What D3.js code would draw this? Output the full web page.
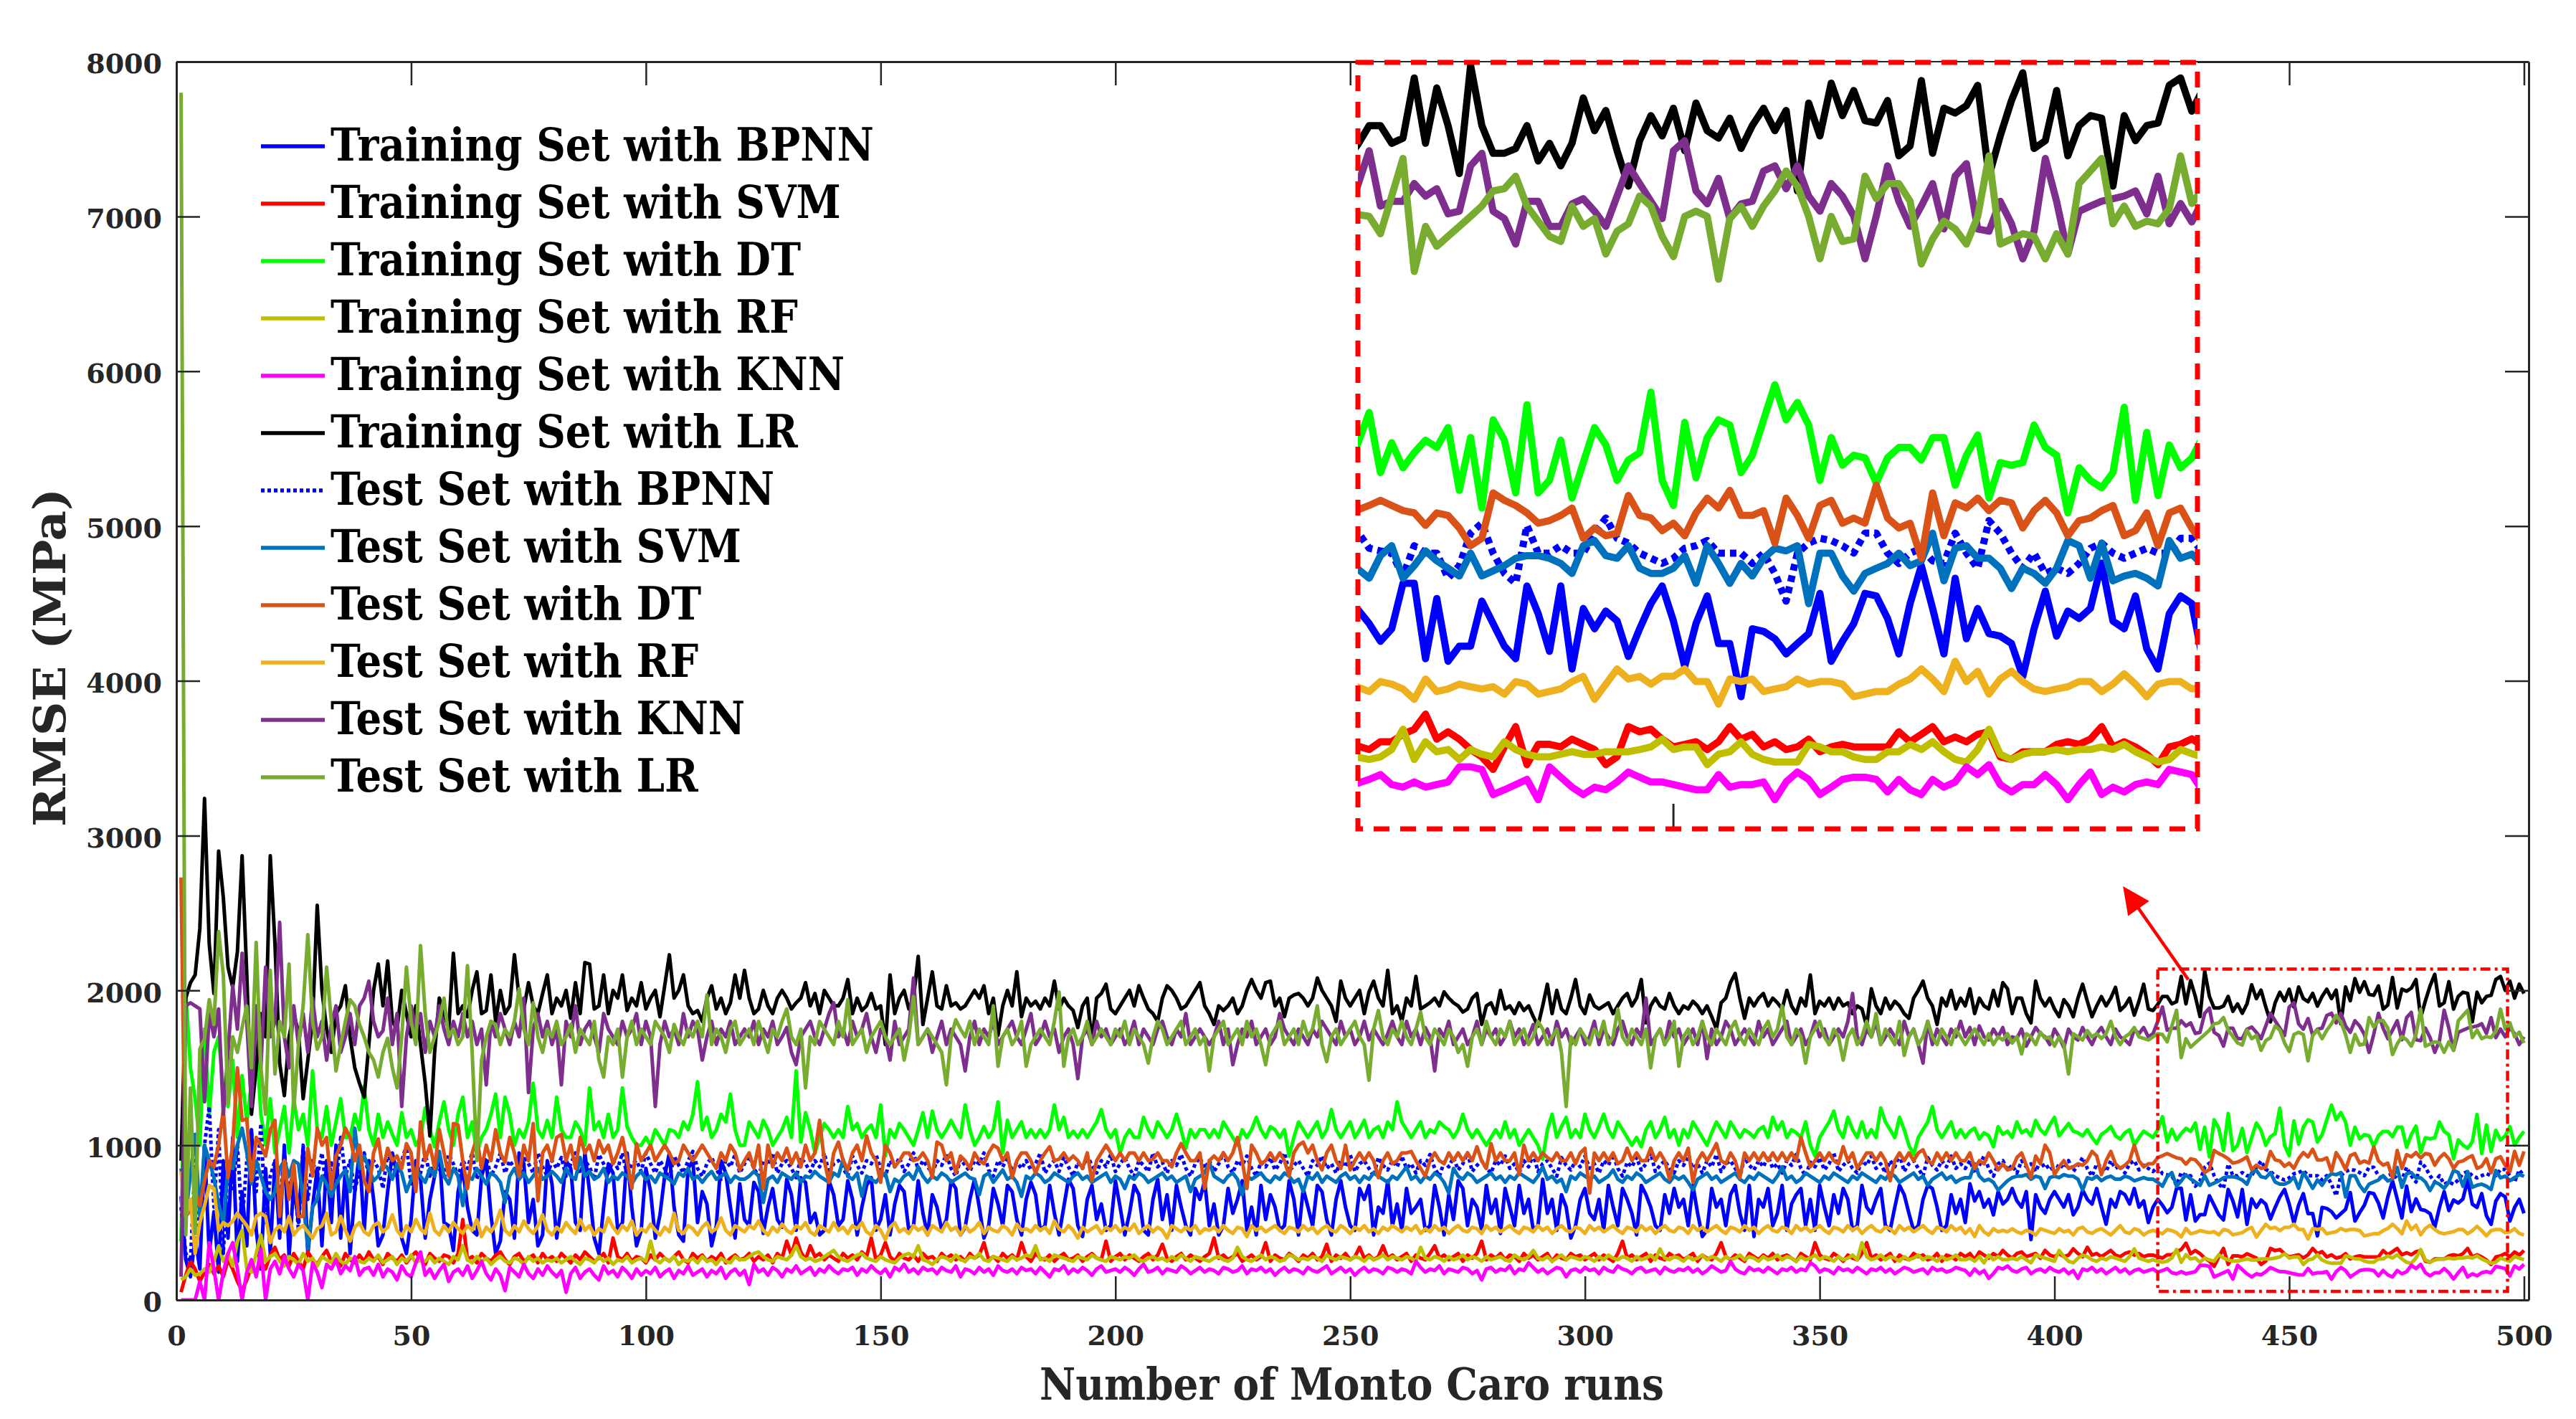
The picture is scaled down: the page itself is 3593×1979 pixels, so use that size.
<!DOCTYPE html>
<html><head><meta charset="utf-8">
<script src="https://cdn.jsdelivr.net/npm/d3@7"></script>
<style>html,body{margin:0;padding:0;background:#fff;}svg{display:block;}</style>
</head><body>
<svg id="chart" width="3593" height="1979"></svg>
<script>
// ---------- labels / ticks ----------
const seriesNames = ["Training Set with BPNN","Training Set with SVM","Training Set with DT","Training Set with RF","Training Set with KNN","Training Set with LR","Test Set with BPNN","Test Set with SVM","Test Set with DT","Test Set with RF","Test Set with KNN","Test Set with LR"];
const seriesColors = ["#0000FF","#FF0000","#00FF00","#BFBF00","#FF00FF","#000000","#0000FF","#0072BD","#D95319","#EDB120","#7E2F8E","#77AC30"];
const yTicks = [0,1000,2000,3000,4000,5000,6000,7000,8000];
const xTicks = [0,50,100,150,200,250,300,350,400,450,500];
const xLabel = "Number of Monto Caro runs";
const yLabel = "RMSE (MPa)";
const zoomRuns = [422, 496.5];     // region magnified in the inset
const zoomValues = [56, 2138];
const arrowFrom = [428.5, 2070], arrowTo = [414.6, 2673];

// ---------- data: RMSE (MPa) for runs 1..500 ----------
const trainBPNN = [
670,260,150,400,200,1000,300,570,180,900,400,1050,250,700,350,1100,450,200,850,300,
900,400,1000,280,750,500,980,300,600,850,350,900,500,1000,400,850,300,700,950,450,
900,650,350,420,700,950,820,400,300,520,900,780,400,650,800,950,500,480,320,700,
850,600,450,420,800,900,550,300,380,700,650,400,950,880,500,650,350,420,900,750,
400,600,900,850,500,450,950,700,400,300,600,880,820,450,500,950,600,350,450,850,
700,400,550,800,950,600,420,380,850,900,500,700,620,350,480,900,820,600,400,750,
520,480,760,700,430,600,720,520,470,780,680,450,790,760,500,560,420,450,770,680,
480,520,770,650,420,600,740,790,450,520,680,420,620,740,700,450,480,770,560,420,
680,600,450,520,770,720,420,470,650,780,600,400,480,720,620,480,740,700,520,420,
650,760,680,450,480,740,560,420,600,780,720,480,410,650,740,520,620,450,480,770,
600,420,560,740,680,450,420,650,780,520,680,450,740,600,480,420,720,650,770,480,
620,420,480,720,560,650,770,450,600,420,740,520,680,600,450,480,770,650,420,720,
600,480,740,700,520,420,650,770,600,480,450,720,650,740,420,600,560,770,480,620,
450,720,560,600,650,450,480,740,600,420,680,520,770,720,480,650,600,450,740,560,
650,430,720,600,480,740,560,650,450,480,780,560,650,450,680,600,400,480,650,720,
560,520,650,450,740,600,480,720,650,560,420,740,680,600,480,450,680,560,720,600,
650,480,740,560,410,450,720,600,650,480,680,740,560,450,740,410,650,600,720,480,
560,740,450,620,680,720,480,650,450,740,600,480,680,560,720,650,450,480,740,600,
560,650,720,480,450,600,740,680,560,450,480,650,740,720,600,450,480,680,560,650,
500,750,640,700,600,650,550,700,620,650,720,640,600,700,390,680,600,560,650,700,
650,600,680,550,600,710,650,620,720,600,490,650,600,700,680,620,720,600,640,500,
600,650,612,564,598,721,721,517,680,510,551,551,673,612,551,517,714,639,537,714,
489,653,598,646,619,523,598,666,714,619,496,612,687,558,558,414,598,591,571,530,
558,585,694,510,564,612,694,687,626,530,666,769,653,530,735,571,653,585,578,558,
469,598,700,578,646,626,653,776,619,598,687,544,489,639,687,666,510,598,650,560];

const trainSVM = [
50,160,250,200,120,180,230,170,220,150,260,200,120,60,130,220,180,250,200,290,
340,260,290,220,300,250,200,310,260,230,280,320,250,270,220,300,260,240,290,250,
310,260,280,230,300,270,250,290,240,280,310,260,230,300,270,250,290,280,240,300,
520,260,280,240,300,270,250,290,310,260,230,280,300,250,270,290,240,300,260,280,
250,300,270,240,290,260,310,280,250,270,300,240,400,280,260,300,250,280,270,240,
290,260,300,270,250,280,310,260,240,300,270,290,250,280,260,300,240,270,290,260,
270,300,250,280,260,290,240,300,270,380,290,400,310,260,350,280,300,260,290,270,
250,300,270,290,260,310,280,400,260,290,370,280,250,300,270,260,290,250,300,270,
280,250,300,270,290,260,280,250,300,270,290,370,260,280,250,300,270,290,260,370,
280,250,300,270,260,290,250,280,300,260,270,290,250,280,300,270,260,380,250,280,
300,260,290,270,250,280,300,260,290,360,270,250,280,300,260,290,270,250,280,300,
400,270,290,260,280,300,250,270,290,260,280,370,250,290,270,260,300,280,250,290,
270,300,260,280,360,250,290,270,300,260,280,340,270,290,260,280,350,270,290,260,
280,300,250,290,270,260,300,350,270,290,260,280,300,250,290,270,300,380,260,290,
270,300,260,290,280,250,300,270,290,260,280,300,250,290,270,260,300,280,290,260,
280,300,260,290,270,250,300,380,270,290,260,280,300,250,290,270,260,300,280,290,
260,280,300,250,290,270,260,300,370,280,260,290,270,250,300,280,260,290,270,300,
260,280,290,270,250,300,280,260,370,290,270,260,300,280,250,290,270,260,300,370,
270,290,260,280,300,250,290,270,260,300,280,290,260,270,300,250,290,280,260,300,
280,300,260,310,290,270,300,280,320,290,270,300,310,280,290,300,270,320,290,280,
300,280,290,330,300,280,340,290,300,280,300,320,290,280,300,310,290,300,280,290,
290,280,271,292,292,312,326,367,299,319,299,271,251,217,278,333,230,285,285,278,
299,285,271,230,251,333,319,326,299,278,285,292,271,292,333,299,312,278,292,271,
278,299,265,278,285,278,278,278,278,319,292,312,333,292,305,292,312,319,251,244,
265,265,265,285,292,285,299,333,278,292,278,258,230,278,285,300,280,310,290,320];

const trainDT = [
380,1990,1500,1300,1000,1750,1200,1600,1700,1350,1250,1550,1050,1450,1150,1400,1700,1200,1000,1300,
950,1100,1250,950,1300,1100,1200,1000,1480,1100,1050,1250,1000,1150,1300,1050,1050,1200,1100,1380,
1100,1000,1200,1050,1150,1070,1000,1210,1050,1100,1000,1050,1240,1100,990,1150,1280,1100,1000,1200,
1310,1050,1150,950,1050,1100,1200,1330,1050,1310,1200,1000,1100,1050,1150,1400,1100,1050,1160,1050,
1310,1100,1050,1050,1150,1100,1000,1370,1100,1150,1050,1200,1050,1100,1370,1120,1050,1000,1000,1050,
1000,1100,1050,1000,1100,1090,1050,1150,1100,1200,1410,1100,1180,1050,1100,1200,1150,1330,1100,1000,
1000,1150,1100,1050,1160,1100,1000,1050,1100,1180,1050,1480,1020,1210,1100,950,1050,1140,1100,1050,
1100,1050,1250,1100,1140,1050,1100,1130,1050,1260,930,1100,1050,1140,1100,1050,1000,1100,1210,1050,
1220,1100,1050,1100,1160,1100,1050,1260,1100,1000,1050,1120,1050,1100,1280,950,1160,1050,1100,1150,
1050,1100,1050,1100,1050,1100,1260,1100,1180,1050,1090,1050,1100,1050,1100,1150,1230,1100,1050,1100,
950,1050,1100,1050,1050,1180,1100,1050,1150,1100,1050,1100,1200,1100,980,1100,1050,1100,1100,1050,
1100,1050,1150,1100,1050,1000,1100,1050,1100,1180,1100,1050,1120,1100,1050,1100,930,1050,1150,1100,
1050,1100,1150,1050,1100,1230,1100,1050,1100,1150,1050,1100,1160,1050,1100,1120,1050,1150,1100,1280,
1150,1100,1050,1100,1150,1050,1100,1080,1150,1120,1100,1050,1100,1200,1100,1050,1100,1050,1000,1050,
1100,1050,1150,1050,1100,1000,1050,1100,1050,1000,910,1100,1200,1050,1120,1180,1050,1100,1050,1200,
1100,1050,1120,1200,1100,1050,1150,1100,1050,1000,1050,990,1100,1150,1050,1100,1180,1050,1100,1000,
1100,1050,1150,1100,1050,1000,1080,1150,1100,1050,1150,1100,1050,1100,1080,1050,1100,1120,1050,1180,
1100,1150,1050,1100,1080,1050,1150,1000,930,1050,1100,1150,1220,1100,1050,1180,1100,1050,1150,1050,
1100,1050,1240,1150,1100,1050,1180,1100,1000,940,1050,1100,1150,1250,1100,1050,1100,1150,1050,1100,
1050,1090,1110,1040,1080,1060,990,1120,1070,1090,1050,1150,1080,1100,1060,1160,1100,1070,1130,1180,
1060,1100,1140,1090,1080,1060,1100,1050,1010,1070,1090,1120,1060,1040,1080,1100,1000,1050,1090,1070,
1050,1100,1184,1021,1102,1034,1075,1109,1089,1143,973,1116,925,1164,1109,966,1205,966,1000,1109,
952,1048,1143,1096,1000,1055,1075,1239,1000,932,1157,1007,1116,1164,1150,1021,1068,1164,1259,1164,
1211,1150,1000,1116,1041,1068,1061,993,1061,1089,1089,1055,1116,1116,987,1068,1123,952,1048,1041,
1048,1150,1089,1068,912,1034,1000,980,1021,1198,946,1130,959,1096,1034,1060,1120,1000,1050,1090];

const trainRF = [
130,150,200,160,170,200,180,250,350,250,300,220,380,450,200,180,300,420,250,280,
300,250,220,280,260,230,300,250,270,220,280,260,240,300,250,230,270,260,250,240,
270,250,290,240,260,280,230,270,250,290,240,260,250,280,240,270,250,230,280,260,
350,260,240,280,250,270,230,260,280,250,240,270,260,230,280,250,270,240,260,250,
270,240,260,280,250,230,270,260,240,280,250,270,230,260,250,280,240,260,270,250,
380,260,240,270,250,280,230,260,250,270,240,280,250,260,230,270,250,240,280,260,
260,280,300,310,280,260,250,280,270,260,290,350,280,260,270,250,260,280,300,320,
280,260,250,270,290,300,270,260,250,280,260,250,240,270,290,300,280,350,260,250,
230,260,280,270,250,290,260,250,280,270,300,260,250,280,270,260,250,280,260,270,
290,280,350,260,270,250,290,280,270,260,250,280,270,260,290,270,260,250,280,270,
260,280,270,290,260,250,270,280,260,270,250,280,260,290,270,250,280,270,260,250,
270,280,260,250,270,340,280,260,250,270,290,260,280,270,250,260,290,280,260,270,
260,280,270,250,290,270,260,280,270,260,280,270,250,280,260,270,290,260,280,270,
260,280,270,250,340,270,260,280,270,250,280,260,270,290,260,280,270,250,280,260,
270,280,260,250,290,270,260,280,320,270,260,280,250,270,290,260,280,270,260,280,
270,250,280,260,290,270,260,280,270,250,280,260,270,290,260,330,270,260,280,270,
250,280,260,270,290,260,280,270,250,280,260,270,290,260,280,270,250,280,260,270,
290,260,280,270,250,280,260,270,290,260,280,270,250,280,260,270,290,260,370,280,
260,270,290,260,280,270,250,280,260,270,290,260,280,270,250,280,260,270,290,260,
260,270,250,280,240,290,260,280,260,260,270,260,280,260,240,290,280,270,260,250,
320,280,250,240,270,290,280,260,250,270,260,280,270,260,250,280,330,270,260,250,
260,250,244,251,271,326,244,292,265,271,244,271,258,251,292,271,258,251,251,258,
265,258,258,265,265,265,271,278,299,271,278,278,230,258,265,292,258,244,237,237,
237,285,278,265,265,251,244,244,265,265,285,271,292,265,244,237,271,326,258,244,
258,265,265,271,265,271,271,278,271,285,265,251,237,244,271,260,250,280,270,260];

const trainKNN = [
0,0,0,0,120,0,370,200,0,180,300,370,200,0,180,260,150,330,0,200,
250,170,280,200,150,230,190,0,240,180,80,230,200,260,170,220,190,280,160,200,
210,160,230,150,200,180,130,220,170,150,240,310,160,200,140,190,230,120,180,200,
160,220,140,190,250,170,130,200,160,60,210,180,150,230,170,140,200,160,220,180,
150,190,50,170,210,140,180,200,160,130,220,170,190,150,210,180,140,200,160,190,
170,210,150,180,200,140,190,170,220,160,180,200,150,190,170,210,140,180,200,160,
190,100,230,180,200,160,210,190,150,200,180,220,170,190,210,160,200,180,220,190,
170,200,190,210,160,200,180,220,190,170,200,150,210,190,230,180,200,170,210,190,
200,170,210,190,180,220,150,200,190,170,210,180,200,160,220,190,180,200,170,210,
190,200,170,210,180,150,200,190,220,170,200,180,210,190,160,200,220,180,190,200,
180,210,190,160,200,230,180,190,210,170,200,190,180,220,200,170,190,210,180,200,
190,170,210,200,180,190,220,170,200,190,210,180,200,160,190,210,180,200,190,170,
210,190,180,200,220,170,190,210,180,200,160,190,210,180,200,190,170,210,200,180,
200,190,170,250,210,180,200,190,220,170,200,190,180,210,200,170,190,130,200,210,
180,200,190,220,170,200,190,240,210,180,200,170,190,210,200,150,190,200,180,210,
190,200,170,210,190,180,220,200,190,170,200,210,180,190,200,170,210,190,180,200,
190,210,180,200,170,190,220,200,180,190,250,200,180,170,210,190,200,180,210,190,
170,200,190,210,180,200,190,240,220,180,200,190,170,210,190,200,180,210,190,170,
200,190,210,180,200,170,190,210,200,180,190,200,170,210,190,200,180,190,210,200,
190,160,200,170,190,140,170,210,200,220,190,180,200,210,170,190,200,180,210,190,
180,200,170,190,140,200,190,210,180,200,170,190,210,180,200,170,190,200,180,190,
200,180,190,203,176,169,183,169,176,183,224,224,217,149,162,176,190,135,224,196,
169,149,169,162,183,210,196,183,183,176,169,162,162,203,169,176,176,183,135,183,
210,190,149,169,190,196,196,190,156,190,162,149,190,169,183,224,203,230,176,156,
176,176,203,176,135,176,210,149,169,156,176,183,176,217,210,203,156,220,200,230];

const trainLR = [
900,1950,2050,2100,2400,3240,2300,1980,2900,2600,2150,2020,2250,2870,2100,1200,1500,1850,1700,2870,
2300,1530,1320,1700,1850,1730,1300,1550,1800,2550,2000,1750,1600,1850,1900,2030,1700,1500,1400,1310,
1650,2000,2170,1900,2190,1800,1750,2000,1850,1700,1900,1650,1400,1060,1600,1950,1850,1750,2240,1850,
1900,1830,2000,2120,1850,1870,2100,1800,2000,1850,1900,2230,1950,1880,2050,1900,1850,1980,2100,1850,
1950,1900,2000,1820,2050,1850,2180,2170,1880,1900,2100,1850,2000,1950,2100,1870,1950,1900,2050,1880,
1950,2000,1830,2030,2230,1950,2000,2100,1900,1850,1870,1800,1950,2030,1880,1950,1850,1920,2100,1950,
2130,1950,1850,1880,2000,1900,1850,1950,2000,1950,1880,1920,1950,2050,1900,1980,1850,2000,1950,1900,
1900,1950,2070,1850,1950,1870,1900,1980,1880,1900,1650,2100,1850,1950,2000,1880,1950,2220,1780,1950,
2120,1900,1880,2030,1900,1920,1880,1900,1950,2000,1950,2030,1850,1950,1710,1900,2000,1900,2120,1830,
1950,1900,1930,1880,1950,1900,2060,1880,1950,1900,1870,1760,1900,1950,1670,1950,1980,2040,1880,1850,
1900,1950,2000,1900,2030,1950,1880,1850,1800,1950,2030,2000,1950,1880,1900,1950,2000,2050,1900,1850,
1780,1900,1870,1900,1950,1850,1900,2000,2070,2000,1950,2050,2060,1900,1950,1830,1950,1970,1980,1950,
1900,1950,2080,2000,1950,1900,1800,2060,1950,1900,1950,2000,1850,1990,2060,1950,1900,2130,1850,1900,
1800,1950,1900,2090,1880,1900,1920,1950,1900,1990,1950,1920,1900,1860,1880,1950,1980,1780,1900,1920,
1850,2000,1880,1900,1850,1920,1870,1900,1830,1770,1900,2040,1850,2000,1880,1850,1950,2070,1900,1850,
1970,1900,1880,1900,1920,1850,1900,1950,1980,1900,1950,2070,1790,1900,1950,1900,1880,1980,1900,1850,
1900,1880,1930,1900,1850,1900,1830,1750,1920,1950,2050,2110,1950,1820,1950,1900,1950,1980,1900,1950,
1920,1880,2000,1900,1850,1950,1900,2100,1850,1930,1900,1950,1880,1950,1900,1920,1850,1900,1880,1770,
2010,1900,1850,1950,1880,1930,1900,1850,1820,1950,2000,2060,1950,1900,1780,1950,1900,2000,1880,1950,
1900,2010,1850,1950,1900,1880,2000,1900,2050,2010,1850,1950,1950,1850,1790,2060,1950,1900,1950,1880,
1830,1940,1900,1830,1950,2040,1930,1830,1900,1960,1900,1950,2020,1870,1900,1950,1840,1930,2040,1880,
1870,1910,1961,1961,1913,1927,2090,1913,2063,1961,1831,2124,1961,1886,1886,1899,1961,1865,1913,1852,
1913,2036,1947,2002,1893,1797,1920,1988,1933,2008,1893,2022,1947,1927,1981,1899,1961,2008,1947,2002,
1784,2022,1933,2076,1988,2056,1974,1968,2029,1879,1906,2083,1886,2008,1995,2015,2070,1824,1933,2029,
2104,1899,1920,2056,1879,1961,1988,1981,1797,1988,1920,1961,1968,2070,2090,2000,2060,1950,2040,1980];

const testBPNN = [
600,300,250,900,400,1000,1250,600,1100,300,900,700,1000,500,900,1080,700,1140,500,800,
900,600,950,700,850,450,1000,650,900,800,950,700,900,750,1050,800,900,700,850,950,
800,900,850,720,950,870,800,900,1000,750,880,820,950,800,900,850,780,940,880,800,
900,850,950,780,880,920,800,860,950,820,900,850,780,930,880,820,950,860,800,900,
850,920,800,880,950,820,900,860,780,940,880,820,900,850,950,800,880,900,830,950,
880,820,900,850,780,930,870,820,900,960,850,800,880,920,850,780,900,860,940,820,
880,930,850,800,900,870,950,820,880,900,850,790,920,880,830,900,860,950,820,880,
900,850,800,930,870,820,900,880,940,850,800,900,860,920,830,880,950,840,900,860,
820,900,870,940,850,800,910,870,830,900,880,950,840,800,900,860,920,830,890,850,
900,840,880,950,820,870,900,830,920,860,800,890,850,930,870,820,900,860,940,830,
880,920,850,800,900,870,830,950,860,890,820,900,870,940,850,800,880,920,850,900,
830,880,950,860,820,900,870,930,850,800,890,860,920,840,880,950,830,870,900,850,
800,900,870,930,850,880,820,900,860,940,830,880,900,850,800,920,870,840,900,860,
930,850,880,820,900,870,940,850,800,890,860,920,840,880,950,830,870,900,850,820,
900,870,930,850,880,820,900,860,940,830,880,900,850,800,920,870,840,900,860,930,
850,880,820,900,870,940,850,800,890,860,920,840,880,950,830,870,900,850,820,900,
870,930,850,880,820,900,860,940,830,880,900,850,800,920,870,840,900,860,930,850,
880,820,900,870,940,850,800,890,860,920,840,880,950,830,870,900,850,820,900,870,
930,850,880,820,900,860,940,830,880,900,850,800,920,870,840,900,860,930,850,880,
850,900,820,870,930,850,800,880,900,840,870,820,900,860,880,830,900,850,870,820,
880,850,900,830,870,920,850,800,880,860,830,900,850,870,820,880,900,840,870,850,
830,860,816,809,803,741,823,803,803,735,769,857,884,803,748,721,878,803,803,823,
803,803,857,898,843,830,803,789,775,789,816,823,837,803,803,803,775,803,748,673,
803,830,843,837,823,803,857,857,803,775,803,816,782,775,857,803,762,891,857,803,
762,803,748,762,748,775,816,830,803,789,803,816,803,803,843,843,803,762,840,800];

const testSVM = [
850,550,810,1070,540,1000,900,790,620,490,860,850,1000,1110,950,750,900,800,700,650,
700,850,900,800,900,880,650,330,600,650,800,750,670,750,800,840,700,1110,850,930,
850,770,800,880,850,780,880,820,700,780,850,800,760,850,800,960,800,750,850,800,
610,800,780,850,800,750,820,800,760,630,800,850,780,820,760,800,850,780,800,830,
800,760,850,800,780,920,800,830,780,800,850,760,800,780,820,800,750,800,830,780,
800,760,820,800,780,750,820,800,850,780,800,760,800,830,780,800,820,760,800,780,
780,800,830,800,630,780,800,760,820,800,780,820,760,800,790,830,800,780,760,820,
800,910,800,780,820,670,800,780,760,800,820,700,780,760,800,820,780,860,800,760,
800,780,820,800,760,780,800,820,790,780,680,800,820,760,800,840,780,800,760,670,
800,780,820,800,760,780,820,800,780,760,800,820,780,800,760,780,800,820,760,800,
780,720,800,780,820,800,760,780,800,820,780,800,760,780,800,700,780,800,820,890,
800,780,760,800,820,780,680,800,780,800,820,780,760,800,780,820,800,760,780,700,
800,780,820,760,800,780,760,800,820,780,800,760,800,780,820,800,780,760,800,780,
820,860,780,800,760,800,780,820,800,760,690,850,800,780,820,800,760,780,800,820,
780,800,760,800,780,820,800,780,760,800,860,780,800,760,780,700,800,780,820,800,
780,800,760,780,800,840,780,760,800,780,820,800,760,780,800,820,780,760,800,780,
800,760,710,780,800,820,780,800,760,780,800,820,780,760,800,780,820,800,780,760,
800,860,780,800,760,780,820,800,780,760,800,780,820,800,780,760,800,780,820,800,
780,760,800,780,820,800,760,780,800,820,780,800,740,780,800,820,780,800,760,780,
790,790,880,800,770,780,760,710,740,770,790,800,800,810,780,800,790,720,790,800,
790,810,800,800,780,710,790,780,800,770,790,800,780,780,800,790,770,780,790,780,
780,760,735,796,823,735,769,809,782,762,741,803,741,755,769,789,796,796,789,775,
748,823,837,796,789,823,762,748,748,762,796,721,823,775,721,775,741,789,816,809,
823,666,803,803,741,700,748,762,775,803,769,782,857,728,816,823,789,789,762,707,
762,748,721,762,837,823,735,830,728,741,748,735,714,837,789,800,770,790,810,800];

const testDT = [
2730,540,580,700,610,770,900,860,1000,1230,790,1000,1500,1160,1170,770,1050,1000,930,1100,
1160,540,900,650,880,540,540,980,800,1110,1000,1050,720,930,1000,1110,1050,900,1000,770,
700,950,1040,840,980,900,930,850,1010,950,700,1150,900,1000,850,1100,950,800,1140,1130,
900,720,950,1050,850,1000,900,1100,950,890,1050,950,800,1000,900,1140,640,950,1000,900,
1050,1070,900,1000,850,1050,950,1000,900,1030,950,1000,880,950,1050,900,720,1010,900,950,
1000,900,950,1000,950,880,900,1000,950,900,950,1000,950,900,850,950,900,1000,950,840,
900,950,850,1000,720,1000,860,950,900,980,880,950,860,1000,900,950,1160,900,760,950,
1020,900,840,950,1000,900,1060,950,900,760,1000,950,860,900,950,950,900,910,950,900,
790,1020,1000,900,950,820,930,900,850,950,900,880,950,1000,980,900,950,790,900,950,
950,900,820,900,950,990,900,910,950,900,930,900,850,950,770,900,950,1000,950,900,
950,900,950,950,900,950,900,910,950,900,900,860,950,1010,950,900,900,950,720,900,
930,900,950,900,950,1050,900,720,1000,950,880,900,950,900,950,900,800,950,1000,1020,
950,1000,900,840,950,1000,900,850,1000,840,900,950,900,950,900,790,900,950,880,900,
950,950,960,900,850,800,900,950,900,880,950,900,950,900,950,900,990,900,850,1010,
900,950,900,900,950,810,1000,900,950,900,950,920,900,950,900,900,950,880,950,980,
690,950,900,950,900,950,880,900,980,900,950,900,900,980,900,950,900,780,900,950,
900,980,760,900,950,900,950,1010,900,880,950,900,790,950,900,950,900,950,900,950,
900,950,900,950,900,1050,950,860,900,950,900,950,900,880,990,900,950,850,900,950,
950,900,950,900,770,900,950,900,950,900,950,970,900,880,950,900,950,900,950,900,
900,950,850,900,880,950,900,840,880,840,850,920,950,870,790,930,880,1000,950,810,
860,900,850,860,880,870,900,960,930,810,900,960,880,850,870,900,1000,900,860,880,
880,920,932,946,932,918,912,878,912,905,871,823,843,966,946,932,912,884,891,905,
925,843,871,850,857,959,905,898,864,884,850,912,952,925,973,905,905,918,830,952,
905,843,932,946,884,898,884,987,898,871,884,789,966,850,939,925,952,918,946,939,
871,918,946,912,850,891,898,918,932,850,864,912,823,912,925,870,830,960,870,960];

const testRF = [
830,540,650,300,500,610,740,720,450,500,480,510,560,520,480,420,540,560,540,370,
450,480,440,540,420,460,480,440,400,460,480,560,420,440,540,450,380,470,500,440,
420,480,500,440,470,550,450,410,480,440,520,460,430,560,450,420,480,440,500,460,
430,480,450,520,410,470,440,490,580,450,420,480,440,510,460,430,480,550,450,420,
470,440,500,460,430,520,450,480,420,460,440,530,470,430,480,450,510,420,460,440,
490,450,420,470,440,560,450,430,480,460,420,470,500,440,460,530,450,420,480,460,
440,480,460,510,450,420,470,440,490,450,430,480,460,500,440,420,480,460,440,500,
450,470,430,480,460,500,440,420,480,450,390,470,500,440,460,430,480,450,470,420,
480,460,440,500,450,470,420,480,440,460,500,430,470,450,440,480,460,420,490,450,
460,440,480,450,470,430,510,460,440,480,450,400,470,440,460,480,430,470,450,480,
440,470,450,490,430,460,480,440,470,450,400,480,460,440,470,450,480,430,460,450,
470,440,480,450,430,470,460,410,480,450,470,440,460,480,450,430,470,460,440,480,
450,470,430,460,480,450,440,480,460,430,470,450,480,440,460,430,470,450,480,460,
440,470,450,480,430,460,440,480,450,470,430,460,480,450,440,470,460,430,480,450,
470,440,460,480,450,430,470,460,440,480,450,470,430,460,480,450,440,470,460,430,
480,450,470,440,460,480,450,430,470,460,440,480,450,470,430,460,480,450,440,470,
460,430,480,450,470,440,460,480,450,430,470,460,440,480,450,470,430,460,480,450,
440,470,460,430,480,450,470,440,460,480,450,430,470,460,440,480,450,470,430,460,
480,450,440,470,460,430,480,450,470,440,460,480,450,430,470,460,440,480,450,470,
430,460,410,480,440,420,460,440,450,440,460,440,430,450,440,420,460,450,440,430,
460,440,450,420,460,470,440,430,450,460,440,420,450,480,440,430,460,450,420,440,
450,440,428,455,448,435,407,462,428,435,448,441,435,441,421,455,448,421,428,435,
455,469,407,448,489,462,469,448,469,469,489,455,455,394,462,455,462,428,435,441,
462,448,455,455,448,414,421,428,428,448,462,489,462,428,510,455,483,421,462,483,
455,435,428,435,441,455,455,428,448,476,448,414,448,455,455,435,440,460,430,420];

const testKNN = [
150,1900,1920,1900,1880,1280,1850,1700,1880,1200,1600,2030,1750,2240,1800,1250,1900,1500,2150,1700,
1800,2440,1700,1500,1900,1650,1850,1600,1950,1700,1800,1550,1780,1900,1600,1700,1850,1650,1900,1950,
2060,1800,1700,1740,1950,1650,1850,1250,1700,1900,1750,1850,1600,1800,1700,1900,1750,1650,1800,1700,
1850,1700,1800,1650,1750,1390,1800,1700,1850,1750,1650,1800,1700,1950,1340,1750,1850,1700,1800,1650,
1750,1390,1800,1700,1900,1650,1750,1800,1700,1600,1850,1750,1700,1650,1800,1700,1750,1850,1650,1800,
1700,1250,1650,1800,1700,1750,1650,1850,1700,1800,1750,1550,1700,1800,1650,1750,1700,1800,1650,1700,
1750,1700,1800,1650,1750,1700,1800,1650,1700,1760,1600,1520,1700,1750,1800,1700,1650,1750,1850,1920,
1700,1750,1650,1800,1700,1750,1850,1700,1600,1750,1700,1550,1800,1650,1700,1750,2080,1650,1700,1750,
1600,1700,1800,1650,1750,1700,1650,1480,1700,1800,1650,1750,1700,1800,1650,1700,1750,1800,1700,1650,
1750,1850,1650,1700,1800,1700,1750,1600,1700,1750,1650,1430,1700,1750,1650,1800,1700,1750,1650,1700,
1750,1650,1700,1800,1650,1750,1700,1650,1750,1800,1700,1650,1750,1700,1850,1650,1700,1750,1700,1650,
1700,1800,1650,1750,1520,1650,1750,1700,1800,1650,1700,1750,1650,1700,1850,1750,1700,1650,1750,1700,
1650,1750,1700,1800,1750,1700,1650,1800,1700,1750,1650,1700,1800,1680,1750,1700,1650,1720,1800,1700,
1650,1800,1700,1750,1650,1760,1700,1480,1750,1700,1800,1650,1700,1750,1650,1700,1800,1650,1750,1700,
1750,1650,1700,1800,1700,1750,1650,1700,1780,1650,1700,1750,1650,1800,1700,1750,1650,1700,1750,1650,
1700,1800,1650,1750,1700,1650,1750,1800,1700,1650,1750,1700,1950,1650,1700,1750,1650,1800,1700,1750,
1650,1700,1750,1650,1800,1560,1750,1650,1700,1800,1750,1650,1700,1750,1700,1650,1800,1700,1750,1650,
1700,1750,1800,1650,1700,1750,1650,1700,1800,1700,1750,1650,1700,1750,1700,1800,1980,1700,1650,1750,
1700,1800,1650,1700,1750,1700,1650,1800,1700,1750,1650,1530,1800,1650,1750,1700,1650,1750,1700,1800,
1700,1760,1650,1770,1700,1680,1750,1700,1760,1650,1700,1690,1750,1640,1700,1760,1720,1700,1650,1750,
1700,1630,1750,1700,1680,1760,1700,1650,1720,1760,1700,1650,1750,1700,1680,1650,1750,1720,1760,1700,
1720,1800,1893,1743,1756,1756,1804,1770,1790,1722,1729,1852,1886,1729,1709,1640,1756,1756,1688,1688,
1749,1763,1729,1688,1770,1852,1804,1756,1709,1893,1920,1784,1749,1818,1709,1749,1756,1838,1852,1790,
1852,1770,1729,1804,1770,1716,1600,1716,1852,1756,1688,1743,1804,1681,1824,1858,1681,1675,1756,1695,
1600,1675,1872,1756,1613,1729,1743,1756,1763,1770,1784,1722,1824,1695,1750,1700,1760,1720,1650,1700];

const testLR = [
7800,420,1370,430,1620,1690,1940,1780,2380,2100,1270,1700,1600,1760,1900,1500,2310,1500,1200,2130,
1460,1800,1700,2170,1230,1650,1900,2360,1800,1620,1700,2150,1800,1480,1650,1800,1940,1900,1780,1700,
1600,1550,1440,1600,1690,1500,1370,1700,2150,1800,1650,2290,1850,1600,1700,1800,1950,1700,1750,1650,
1700,2160,1600,900,1550,1700,1800,1780,1650,1750,1700,1800,2010,1750,1650,1920,1700,1600,1750,1700,
1800,1650,1700,1780,1600,1750,1700,1650,1800,1550,1440,1700,1650,1750,1440,1700,1800,1650,1750,1700,
1650,1800,1750,1700,1600,1780,1700,1650,1750,1700,1800,1700,1970,1650,1750,1700,1600,1750,1800,1650,
1700,1750,1650,1800,1700,1600,1750,1700,1800,1880,1700,1650,1750,1370,1700,1650,1800,1750,1700,1650,
1800,1700,1940,1650,1700,1750,1600,1700,1750,1800,1700,1650,1700,1750,1550,1700,1960,1650,1700,1750,
1700,1650,1600,1390,1700,1810,1750,1700,1800,1650,1750,1700,1650,1900,1510,1700,1750,1650,1700,1800,
1510,1650,1700,1750,1700,1650,1800,1990,1510,1700,1750,1650,1700,1800,1650,1700,1750,1700,1650,1750,
1700,1800,1650,1750,1700,1650,1530,1700,1800,1750,1650,1700,1750,1800,1650,1700,1750,1650,1700,1480,
1700,1750,1800,1650,1700,1750,1650,1800,1700,1750,1650,1520,1700,1750,1800,1650,1700,1750,1650,1800,
1700,1750,1900,1650,1540,1700,1750,1650,1700,1750,1800,1700,1650,1420,1750,1870,1700,1650,1750,1700,
1800,1700,1650,1750,1860,1700,1650,1750,1700,1650,1750,1700,1600,1650,1510,1700,1750,1650,1800,1700,
1650,1750,1700,1800,1650,1700,1750,1650,1700,1800,1750,1650,1700,1750,1600,1250,1700,1650,1750,1700,
1650,1750,1700,1800,1650,1700,1880,1700,1650,1750,1700,1650,1750,1500,1700,1750,1650,1700,1800,1510,
1700,1750,1650,1700,1800,1700,1650,1750,1700,1650,1750,1800,1700,1650,1750,1700,1650,1750,1800,1700,
1750,1900,1700,1650,1750,1700,1530,1700,1750,1800,1700,1650,1750,1700,1550,1700,1750,1650,1700,1800,
1700,1850,1650,1750,1700,1650,1800,1580,1700,1750,1650,1700,1800,1700,1650,1750,1700,1650,1750,1700,
1650,1700,1750,1700,1650,1720,1650,1700,1680,1720,1660,1700,1590,1720,1700,1650,1730,1690,1700,1640,
1700,1650,1460,1720,1700,1680,1740,1700,1720,1690,1720,1800,1700,1650,1700,1720,1760,1700,1690,1680,
1700,1720,1715,1668,1770,1872,1566,1688,1634,1661,1688,1715,1743,1784,1790,1824,1743,1702,1661,1647,
1743,1688,1709,1613,1675,1695,1770,1743,1661,1606,1715,1729,1715,1545,1709,1743,1688,1743,1784,1838,
1797,1715,1600,1715,1647,1654,1824,1763,1804,1804,1756,1586,1654,1702,1681,1640,1715,1879,1640,1654,
1668,1661,1600,1668,1613,1804,1838,1872,1695,1743,1688,1702,1695,1736,1879,1750,1790,1700,1730,1660];

const seriesData = [trainBPNN,trainSVM,trainDT,trainRF,trainKNN,trainLR,testBPNN,testSVM,testDT,testRF,testKNN,testLR];

// ---------- drawing ----------
const W = 3593, H = 1979;
const M = {left:246, right:3527, top:86, bottom:1813};
const INS = {left:1894, right:3065, top:87, bottom:1156};
const FONT = "'DejaVu Serif', 'Liberation Serif', serif";
const AX = "#262626";

const svg = d3.select("#chart");
svg.append("rect").attr("width", W).attr("height", H).attr("fill", "#fff");
const defs = svg.append("defs");
defs.append("clipPath").attr("id","mainClip").append("rect")
  .attr("x", M.left).attr("y", M.top).attr("width", M.right-M.left).attr("height", M.bottom-M.top);
defs.append("clipPath").attr("id","insClip").append("rect")
  .attr("x", INS.left).attr("y", INS.top).attr("width", INS.right-INS.left).attr("height", INS.bottom-INS.top);

const x = d3.scaleLinear().domain([0, 501]).range([M.left, M.right]);
const y = d3.scaleLinear().domain([0, 8000]).range([M.bottom, M.top]);

// main lines
const gLines = svg.append("g").attr("clip-path","url(#mainClip)");
const mainLine = d3.line().x((d,i)=>x(i+1)).y(d=>y(d));
seriesData.forEach((arr,k)=>{
  gLines.append("path").attr("d", mainLine(arr)).attr("fill","none")
    .attr("stroke", seriesColors[k]).attr("stroke-width", 5)
    .attr("stroke-linejoin","round")
    .attr("stroke-dasharray", k===6 ? "5,4" : null);
});

// axes (box with inward ticks)
function styleAxis(g){
  g.select(".domain").attr("stroke", AX).attr("stroke-width", 3);
  g.selectAll(".tick line").attr("stroke", AX).attr("stroke-width", 2.5);
  g.selectAll(".tick text").attr("fill", AX).style("font-family", FONT)
    .style("font-weight","bold").style("font-size","38px");
}
svg.append("g").attr("transform",`translate(0,${M.bottom})`)
  .call(d3.axisBottom(x).tickValues(xTicks).tickSizeInner(-33).tickSizeOuter(0).tickPadding(36).tickFormat(d3.format("d")))
  .call(styleAxis);
const gLeft = svg.append("g").attr("transform",`translate(${M.left},0)`)
  .call(d3.axisLeft(y).tickValues(yTicks).tickSizeInner(-33).tickSizeOuter(0).tickPadding(20).tickFormat(d3.format("d")))
  .call(styleAxis);
gLeft.selectAll(".tick text").attr("dy","0.42em");
svg.append("g").attr("transform",`translate(0,${M.top})`)
  .call(d3.axisTop(x).tickValues(xTicks).tickSizeInner(-33).tickSizeOuter(0).tickFormat(""))
  .call(styleAxis);
svg.append("g").attr("transform",`translate(${M.right},0)`)
  .call(d3.axisRight(y).tickValues(yTicks).tickSizeInner(-33).tickSizeOuter(0).tickFormat(""))
  .call(styleAxis);

// axis titles
svg.append("text").attr("x", (M.left+M.right)/2 - 1).attr("y", 1952)
  .attr("text-anchor","middle").attr("fill", AX)
  .style("font-family", FONT).style("font-weight","bold").style("font-size","62px").text(xLabel)
  .attr("textLength", 871).attr("lengthAdjust","spacingAndGlyphs");
svg.append("text").attr("transform","translate(91,917) rotate(-90)")
  .attr("text-anchor","middle").attr("fill", AX)
  .style("font-family", FONT).style("font-weight","bold").style("font-size","62px").text(yLabel)
  .attr("textLength", 472).attr("lengthAdjust","spacingAndGlyphs");

// zoom rectangle (dash-dot) and arrow
svg.append("rect").attr("x", x(zoomRuns[0])).attr("y", y(zoomValues[1]))
  .attr("width", x(zoomRuns[1]) - x(zoomRuns[0])).attr("height", y(zoomValues[0]) - y(zoomValues[1]))
  .attr("fill","none").attr("stroke","#FF0000").attr("stroke-width",4.5).attr("stroke-dasharray","14,6,4,6");
{
  const x1 = x(arrowFrom[0]), y1 = y(arrowFrom[1]), x2 = x(arrowTo[0]), y2 = y(arrowTo[1]);
  const dx = x2-x1, dy = y2-y1, L = Math.hypot(dx,dy), ux = dx/L, uy = dy/L;
  const hl = 38, hw = 18;
  const bx = x2 - ux*hl, by = y2 - uy*hl;
  svg.append("line").attr("x1",x1).attr("y1",y1).attr("x2",bx+ux*4).attr("y2",by+uy*4)
    .attr("stroke","#FF0000").attr("stroke-width",4.5);
  svg.append("path").attr("d",`M${x2},${y2}L${bx - uy*hw},${by + ux*hw}L${bx + uy*hw},${by - ux*hw}Z`).attr("fill","#FF0000");
}

// legend
const leg = svg.append("g");
const legTexts = [];
seriesNames.forEach((name,i)=>{
  const base = 224 + 80*i;
  leg.append("line").attr("x1",364).attr("x2",453).attr("y1",base-20).attr("y2",base-20)
    .attr("stroke", seriesColors[i]).attr("stroke-width",5.5)
    .attr("stroke-dasharray", i===6 ? "5,4" : null);
  const t = leg.append("text").attr("x",461).attr("y",base).attr("fill","#000")
    .style("font-family", FONT).style("font-weight","bold").style("font-size","63px").text(name);
  legTexts.push(t);
});
const k0 = 758 / legTexts[0].node().getComputedTextLength();
legTexts.forEach(t=>{ const w = t.node().getComputedTextLength(); t.attr("textLength", w*k0).attr("lengthAdjust","spacingAndGlyphs"); });

// inset
const xi = d3.scaleLinear().domain(zoomRuns).range([INS.left, INS.right]);
const yi = d3.scaleLinear().domain(zoomValues).range([INS.bottom, 84]);
svg.append("rect").attr("x",INS.left).attr("y",INS.top).attr("width",INS.right-INS.left).attr("height",INS.bottom-INS.top).attr("fill","#fff");
const gIns = svg.append("g").attr("clip-path","url(#insClip)");
const insLine = d3.line().x(d=>xi(d.r)).y(d=>yi(d.v));
seriesData.forEach((arr,k)=>{
  const pts = arr.map((v,i)=>({r:i+1, v:v})).filter(d=>d.r>=420 && d.r<=499);
  gIns.append("path").attr("d", insLine(pts)).attr("fill","none")
    .attr("stroke", seriesColors[k]).attr("stroke-width", 10)
    .attr("stroke-linejoin","round")
    .attr("stroke-dasharray", k===6 ? "9,7" : null);
});
svg.append("line").attr("x1",xi(450)).attr("x2",xi(450)).attr("y1",INS.bottom).attr("y2",INS.bottom-35)
  .attr("stroke",AX).attr("stroke-width",3);
svg.append("rect").attr("x",INS.left).attr("y",INS.top).attr("width",INS.right-INS.left).attr("height",INS.bottom-INS.top)
  .attr("fill","none").attr("stroke","#FF0000").attr("stroke-width",7).attr("stroke-dasharray","22,15");
</script>
</body></html>
